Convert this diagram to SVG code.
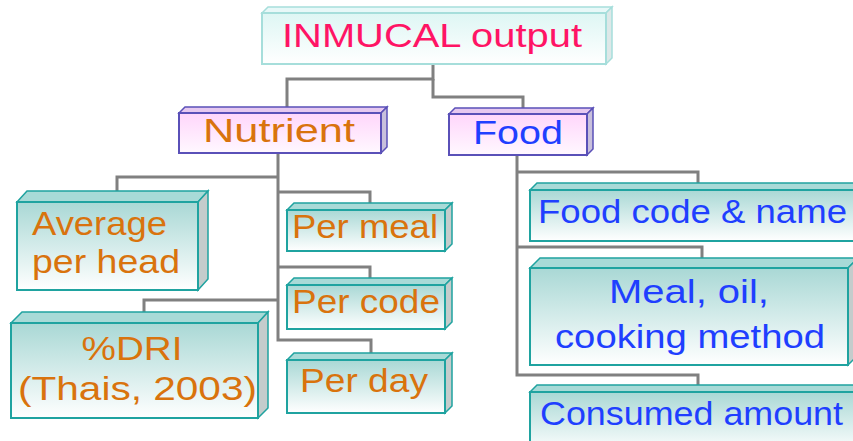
<svg xmlns="http://www.w3.org/2000/svg" width="853" height="441" viewBox="0 0 853 441">
<defs>
<linearGradient id="gTeal" x1="0" y1="0" x2="0" y2="1"><stop offset="0" stop-color="#a9d8d5"/><stop offset="1" stop-color="#ffffff"/></linearGradient>
<linearGradient id="gPink" x1="0" y1="0" x2="0" y2="1"><stop offset="0" stop-color="#ffd6fb"/><stop offset="1" stop-color="#fff8ff"/></linearGradient>
<linearGradient id="gTop" x1="0" y1="0" x2="0" y2="1"><stop offset="0" stop-color="#def6f4"/><stop offset="1" stop-color="#ffffff"/></linearGradient>
<style>
.c{fill:none;stroke:#808080;stroke-width:3}
.t{font-family:"Liberation Sans",Arial,sans-serif;font-size:33px}
.or{fill:#d9730d}.bl{fill:#1f3fff}.pk{fill:#ff1465}
.tf{fill:url(#gTeal);stroke:#1fa3a0;stroke-width:2}
.tt{fill:#a8dad7;stroke:#1fa3a0;stroke-width:1.5}
.ts{fill:#c4cccc;stroke:#1fa3a0;stroke-width:1.5}
.pf{fill:url(#gPink);stroke:#5a50b8;stroke-width:2}
.pt{fill:#e6c8f0;stroke:#5a50b8;stroke-width:1.5}
.ps{fill:#c8c0dc;stroke:#5a50b8;stroke-width:1.5}
.hf{fill:url(#gTop);stroke:#a6dedb;stroke-width:2}
.ht{fill:#e8f8f8;stroke:#a6dedb;stroke-width:1.5}
.hs{fill:#dde8e8;stroke:#a6dedb;stroke-width:1.5}
</style>
</defs>
<g id="connectors">
<path class="c" d="M433,64 V79 H287 V113"/>
<path class="c" d="M433,79 V97 H523 V114"/>
<path class="c" d="M278,153 V340 H371 V360"/>
<path class="c" d="M278,177 H117 V202"/>
<path class="c" d="M278,192 H370 V210"/>
<path class="c" d="M278,267 H370 V285"/>
<path class="c" d="M278,300 H144 V323"/>
<path class="c" d="M517,155 V375 H698 V392"/>
<path class="c" d="M517,172 H698 V190"/>
<path class="c" d="M517,247 H702 V268"/>
</g>
<g id="inmucal">
<polygon class="ht" points="262,13 268,7 612,7 606,13"/>
<polygon class="hs" points="606,13 612,7 612,58 606,64"/>
<rect class="hf" x="262" y="13" width="344" height="51"/>
<text class="t pk" x="432" y="47" font-size="36" text-anchor="middle" textLength="300" lengthAdjust="spacingAndGlyphs">INMUCAL output</text>
</g>
<g id="nutrient">
<polygon class="pt" points="179,113 185,107 387,107 381,113"/>
<polygon class="ps" points="381,113 387,107 387,147 381,153"/>
<rect class="pf" x="179" y="113" width="202" height="40"/>
<text class="t or" x="279" y="142" font-size="34" text-anchor="middle" textLength="152" lengthAdjust="spacingAndGlyphs">Nutrient</text>
</g>
<g id="food">
<polygon class="pt" points="449,114 455,108 593,108 587,114"/>
<polygon class="ps" points="587,114 593,108 593,149 587,155"/>
<rect class="pf" x="449" y="114" width="138" height="41"/>
<text class="t bl" x="518" y="144" font-size="36" text-anchor="middle" textLength="90" lengthAdjust="spacingAndGlyphs">Food</text>
</g>
<g id="average">
<polygon class="tt" points="17,202 27,191 208,191 198,202"/>
<polygon class="ts" points="198,202 208,191 208,279 198,290"/>
<rect class="tf" x="17" y="202" width="181" height="88"/>
<text class="t or" x="32" y="235" textLength="135" lengthAdjust="spacingAndGlyphs">Average</text>
<text class="t or" x="32" y="273" textLength="148" lengthAdjust="spacingAndGlyphs">per head</text>
</g>
<g id="permeal">
<polygon class="tt" points="287,210 294,203 452,203 445,210"/>
<polygon class="ts" points="445,210 452,203 452,244 445,251"/>
<rect class="tf" x="287" y="210" width="158" height="41"/>
<text class="t or" x="292" y="238" textLength="146" lengthAdjust="spacingAndGlyphs">Per meal</text>
</g>
<g id="percode">
<polygon class="tt" points="287,285 294,278 452,278 445,285"/>
<polygon class="ts" points="445,285 452,278 452,322 445,329"/>
<rect class="tf" x="287" y="285" width="158" height="44"/>
<text class="t or" x="292" y="313" textLength="148" lengthAdjust="spacingAndGlyphs">Per code</text>
</g>
<g id="dri">
<polygon class="tt" points="11,323 22,312 268,312 258,323"/>
<polygon class="ts" points="258,323 268,312 268,408 258,418"/>
<rect class="tf" x="11" y="323" width="247" height="95"/>
<text class="t or" x="132" y="360" text-anchor="middle" textLength="101" lengthAdjust="spacingAndGlyphs">%DRI</text>
<text class="t or" x="18" y="400" textLength="239" lengthAdjust="spacingAndGlyphs">(Thais, 2003)</text>
</g>
<g id="perday">
<polygon class="tt" points="287,360 294,353 452,353 445,360"/>
<polygon class="ts" points="445,360 452,353 452,406 445,413"/>
<rect class="tf" x="287" y="360" width="158" height="53"/>
<text class="t or" x="300" y="392" textLength="128" lengthAdjust="spacingAndGlyphs">Per day</text>
</g>
<g id="foodcode">
<polygon class="tt" points="530,190 537,183 860,183 853,190"/>
<rect class="tf" x="530" y="190" width="330" height="51"/>
<text class="t bl" x="538" y="223" textLength="309" lengthAdjust="spacingAndGlyphs">Food code &amp; name</text>
</g>
<g id="meal">
<polygon class="tt" points="530,268 540,258 858,258 848,268"/>
<polygon class="ts" points="848,268 858,258 858,355 848,365"/>
<rect class="tf" x="530" y="268" width="318" height="97"/>
<text class="t bl" x="689" y="303" text-anchor="middle" textLength="160" lengthAdjust="spacingAndGlyphs">Meal, oil,</text>
<text class="t bl" x="690" y="348" text-anchor="middle" textLength="270" lengthAdjust="spacingAndGlyphs">cooking method</text>
</g>
<g id="consumed">
<polygon class="tt" points="530,392 537,385 860,385 853,392"/>
<rect class="tf" x="530" y="392" width="330" height="60"/>
<text class="t bl" x="540" y="425" textLength="303" lengthAdjust="spacingAndGlyphs">Consumed amount</text>
</g>
</svg>
